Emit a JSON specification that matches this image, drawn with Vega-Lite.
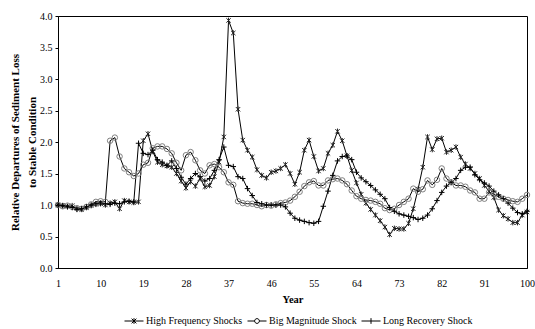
{
 "$schema": "https://vega.github.io/schema/vega-lite/v6.json",
 "width": 469,
 "height": 252,
 "autosize": {"type": "none"},
 "padding": {"left": 58, "top": 16, "right": 8, "bottom": 61},
 "config": {
  "font": "Liberation Serif",
  "view": {"stroke": "#000", "strokeWidth": 1},
  "axis": {"labelFont": "Liberation Serif", "titleFont": "Liberation Serif", "labelColor": "#000", "titleColor": "#000", "domainColor": "#000", "tickColor": "#000", "grid": false, "labelFontSize": 10, "titleFontSize": 10.5, "titleFontWeight": "bold"},
  "legend": {"labelFont": "Liberation Serif", "labelFontSize": 10, "labelColor": "#000"}
 },
 "datasets": {
  "d": [
{"year":1,"series":"HF","value":1.00},{"year":2,"series":"HF","value":0.99},{"year":3,"series":"HF","value":0.98},{"year":4,"series":"HF","value":0.99},{"year":5,"series":"HF","value":0.94},{"year":6,"series":"HF","value":0.93},{"year":7,"series":"HF","value":0.96},{"year":8,"series":"HF","value":0.99},{"year":9,"series":"HF","value":1.01},{"year":10,"series":"HF","value":1.02},
{"year":11,"series":"HF","value":1.00},{"year":12,"series":"HF","value":1.03},{"year":13,"series":"HF","value":1.05},{"year":14,"series":"HF","value":0.94},{"year":15,"series":"HF","value":1.07},{"year":16,"series":"HF","value":1.05},{"year":17,"series":"HF","value":1.04},{"year":18,"series":"HF","value":1.05},{"year":19,"series":"HF","value":2.02},{"year":20,"series":"HF","value":2.13},
{"year":21,"series":"HF","value":1.85},{"year":22,"series":"HF","value":1.68},{"year":23,"series":"HF","value":1.64},{"year":24,"series":"HF","value":1.62},{"year":25,"series":"HF","value":1.60},{"year":26,"series":"HF","value":1.50},{"year":27,"series":"HF","value":1.38},{"year":28,"series":"HF","value":1.27},{"year":29,"series":"HF","value":1.37},{"year":30,"series":"HF","value":1.30},
{"year":31,"series":"HF","value":1.42},{"year":32,"series":"HF","value":1.29},{"year":33,"series":"HF","value":1.31},{"year":34,"series":"HF","value":1.45},{"year":35,"series":"HF","value":1.68},{"year":36,"series":"HF","value":2.08},{"year":37,"series":"HF","value":3.93},{"year":38,"series":"HF","value":3.73},{"year":39,"series":"HF","value":2.52},{"year":40,"series":"HF","value":2.03},
{"year":41,"series":"HF","value":1.87},{"year":42,"series":"HF","value":1.76},{"year":43,"series":"HF","value":1.56},{"year":44,"series":"HF","value":1.47},{"year":45,"series":"HF","value":1.43},{"year":46,"series":"HF","value":1.52},{"year":47,"series":"HF","value":1.54},{"year":48,"series":"HF","value":1.58},{"year":49,"series":"HF","value":1.64},{"year":50,"series":"HF","value":1.50},
{"year":51,"series":"HF","value":1.33},{"year":52,"series":"HF","value":1.52},{"year":53,"series":"HF","value":1.87},{"year":54,"series":"HF","value":2.03},{"year":55,"series":"HF","value":1.77},{"year":56,"series":"HF","value":1.54},{"year":57,"series":"HF","value":1.58},{"year":58,"series":"HF","value":1.82},{"year":59,"series":"HF","value":1.95},{"year":60,"series":"HF","value":2.17},
{"year":61,"series":"HF","value":2.02},{"year":62,"series":"HF","value":1.78},{"year":63,"series":"HF","value":1.55},{"year":64,"series":"HF","value":1.35},{"year":65,"series":"HF","value":1.17},{"year":66,"series":"HF","value":1.03},{"year":67,"series":"HF","value":0.93},{"year":68,"series":"HF","value":0.84},{"year":69,"series":"HF","value":0.75},{"year":70,"series":"HF","value":0.65},
{"year":71,"series":"HF","value":0.53},{"year":72,"series":"HF","value":0.63},{"year":73,"series":"HF","value":0.62},{"year":74,"series":"HF","value":0.62},{"year":75,"series":"HF","value":0.71},{"year":76,"series":"HF","value":0.94},{"year":77,"series":"HF","value":1.25},{"year":78,"series":"HF","value":1.60},{"year":79,"series":"HF","value":2.08},{"year":80,"series":"HF","value":1.88},
{"year":81,"series":"HF","value":2.05},{"year":82,"series":"HF","value":2.06},{"year":83,"series":"HF","value":1.84},{"year":84,"series":"HF","value":1.87},{"year":85,"series":"HF","value":1.92},{"year":86,"series":"HF","value":1.76},{"year":87,"series":"HF","value":1.65},{"year":88,"series":"HF","value":1.58},{"year":89,"series":"HF","value":1.50},{"year":90,"series":"HF","value":1.42},
{"year":91,"series":"HF","value":1.31},{"year":92,"series":"HF","value":1.22},{"year":93,"series":"HF","value":1.12},{"year":94,"series":"HF","value":0.92},{"year":95,"series":"HF","value":0.83},{"year":96,"series":"HF","value":0.78},{"year":97,"series":"HF","value":0.72},{"year":98,"series":"HF","value":0.72},{"year":99,"series":"HF","value":0.84},{"year":100,"series":"HF","value":0.89},
{"year":1,"series":"BM","value":1.00},{"year":2,"series":"BM","value":0.98},{"year":3,"series":"BM","value":0.99},{"year":4,"series":"BM","value":0.97},{"year":5,"series":"BM","value":0.95},{"year":6,"series":"BM","value":0.94},{"year":7,"series":"BM","value":0.97},{"year":8,"series":"BM","value":1.01},{"year":9,"series":"BM","value":1.05},{"year":10,"series":"BM","value":1.06},
{"year":11,"series":"BM","value":1.05},{"year":12,"series":"BM","value":2.02},{"year":13,"series":"BM","value":2.07},{"year":14,"series":"BM","value":1.77},{"year":15,"series":"BM","value":1.58},{"year":16,"series":"BM","value":1.52},{"year":17,"series":"BM","value":1.46},{"year":18,"series":"BM","value":1.50},{"year":19,"series":"BM","value":1.64},{"year":20,"series":"BM","value":1.67},
{"year":21,"series":"BM","value":1.90},{"year":22,"series":"BM","value":1.93},{"year":23,"series":"BM","value":1.93},{"year":24,"series":"BM","value":1.89},{"year":25,"series":"BM","value":1.82},{"year":26,"series":"BM","value":1.67},{"year":27,"series":"BM","value":1.55},{"year":28,"series":"BM","value":1.79},{"year":29,"series":"BM","value":1.84},{"year":30,"series":"BM","value":1.71},
{"year":31,"series":"BM","value":1.55},{"year":32,"series":"BM","value":1.50},{"year":33,"series":"BM","value":1.63},{"year":34,"series":"BM","value":1.65},{"year":35,"series":"BM","value":1.60},{"year":36,"series":"BM","value":1.52},{"year":37,"series":"BM","value":1.36},{"year":38,"series":"BM","value":1.32},{"year":39,"series":"BM","value":1.06},{"year":40,"series":"BM","value":1.03},
{"year":41,"series":"BM","value":1.02},{"year":42,"series":"BM","value":1.02},{"year":43,"series":"BM","value":1.00},{"year":44,"series":"BM","value":0.98},{"year":45,"series":"BM","value":1.00},{"year":46,"series":"BM","value":0.99},{"year":47,"series":"BM","value":1.01},{"year":48,"series":"BM","value":1.03},{"year":49,"series":"BM","value":1.04},{"year":50,"series":"BM","value":1.07},
{"year":51,"series":"BM","value":1.13},{"year":52,"series":"BM","value":1.21},{"year":53,"series":"BM","value":1.30},{"year":54,"series":"BM","value":1.36},{"year":55,"series":"BM","value":1.38},{"year":56,"series":"BM","value":1.31},{"year":57,"series":"BM","value":1.31},{"year":58,"series":"BM","value":1.39},{"year":59,"series":"BM","value":1.41},{"year":60,"series":"BM","value":1.42},
{"year":61,"series":"BM","value":1.39},{"year":62,"series":"BM","value":1.33},{"year":63,"series":"BM","value":1.23},{"year":64,"series":"BM","value":1.14},{"year":65,"series":"BM","value":1.10},{"year":66,"series":"BM","value":1.08},{"year":67,"series":"BM","value":1.07},{"year":68,"series":"BM","value":1.05},{"year":69,"series":"BM","value":1.02},{"year":70,"series":"BM","value":0.95},
{"year":71,"series":"BM","value":0.92},{"year":72,"series":"BM","value":0.94},{"year":73,"series":"BM","value":1.00},{"year":74,"series":"BM","value":1.05},{"year":75,"series":"BM","value":1.10},{"year":76,"series":"BM","value":1.26},{"year":77,"series":"BM","value":1.21},{"year":78,"series":"BM","value":1.25},{"year":79,"series":"BM","value":1.39},{"year":80,"series":"BM","value":1.32},
{"year":81,"series":"BM","value":1.40},{"year":82,"series":"BM","value":1.58},{"year":83,"series":"BM","value":1.42},{"year":84,"series":"BM","value":1.36},{"year":85,"series":"BM","value":1.31},{"year":86,"series":"BM","value":1.31},{"year":87,"series":"BM","value":1.29},{"year":88,"series":"BM","value":1.23},{"year":89,"series":"BM","value":1.20},{"year":90,"series":"BM","value":1.10},
{"year":91,"series":"BM","value":1.10},{"year":92,"series":"BM","value":1.20},{"year":93,"series":"BM","value":1.17},{"year":94,"series":"BM","value":1.13},{"year":95,"series":"BM","value":1.10},{"year":96,"series":"BM","value":1.08},{"year":97,"series":"BM","value":1.06},{"year":98,"series":"BM","value":1.05},{"year":99,"series":"BM","value":1.10},{"year":100,"series":"BM","value":1.16},
{"year":1,"series":"LR","value":1.00},{"year":2,"series":"LR","value":0.99},{"year":3,"series":"LR","value":0.97},{"year":4,"series":"LR","value":0.96},{"year":5,"series":"LR","value":0.93},{"year":6,"series":"LR","value":0.94},{"year":7,"series":"LR","value":0.97},{"year":8,"series":"LR","value":1.00},{"year":9,"series":"LR","value":1.02},{"year":10,"series":"LR","value":1.03},
{"year":11,"series":"LR","value":1.02},{"year":12,"series":"LR","value":1.01},{"year":13,"series":"LR","value":1.03},{"year":14,"series":"LR","value":1.02},{"year":15,"series":"LR","value":1.05},{"year":16,"series":"LR","value":1.06},{"year":17,"series":"LR","value":1.05},{"year":18,"series":"LR","value":1.98},{"year":19,"series":"LR","value":1.82},{"year":20,"series":"LR","value":1.80},
{"year":21,"series":"LR","value":1.87},{"year":22,"series":"LR","value":1.72},{"year":23,"series":"LR","value":1.68},{"year":24,"series":"LR","value":1.63},{"year":25,"series":"LR","value":1.70},{"year":26,"series":"LR","value":1.58},{"year":27,"series":"LR","value":1.44},{"year":28,"series":"LR","value":1.33},{"year":29,"series":"LR","value":1.42},{"year":30,"series":"LR","value":1.50},
{"year":31,"series":"LR","value":1.45},{"year":32,"series":"LR","value":1.38},{"year":33,"series":"LR","value":1.42},{"year":34,"series":"LR","value":1.55},{"year":35,"series":"LR","value":1.72},{"year":36,"series":"LR","value":1.92},{"year":37,"series":"LR","value":1.63},{"year":38,"series":"LR","value":1.61},{"year":39,"series":"LR","value":1.45},{"year":40,"series":"LR","value":1.42},
{"year":41,"series":"LR","value":1.26},{"year":42,"series":"LR","value":1.15},{"year":43,"series":"LR","value":1.04},{"year":44,"series":"LR","value":1.02},{"year":45,"series":"LR","value":1.00},{"year":46,"series":"LR","value":1.00},{"year":47,"series":"LR","value":1.00},{"year":48,"series":"LR","value":1.00},{"year":49,"series":"LR","value":0.97},{"year":50,"series":"LR","value":0.87},
{"year":51,"series":"LR","value":0.79},{"year":52,"series":"LR","value":0.76},{"year":53,"series":"LR","value":0.74},{"year":54,"series":"LR","value":0.72},{"year":55,"series":"LR","value":0.71},{"year":56,"series":"LR","value":0.74},{"year":57,"series":"LR","value":0.98},{"year":58,"series":"LR","value":1.22},{"year":59,"series":"LR","value":1.47},{"year":60,"series":"LR","value":1.70},
{"year":61,"series":"LR","value":1.77},{"year":62,"series":"LR","value":1.78},{"year":63,"series":"LR","value":1.72},{"year":64,"series":"LR","value":1.52},{"year":65,"series":"LR","value":1.43},{"year":66,"series":"LR","value":1.37},{"year":67,"series":"LR","value":1.31},{"year":68,"series":"LR","value":1.24},{"year":69,"series":"LR","value":1.17},{"year":70,"series":"LR","value":1.10},
{"year":71,"series":"LR","value":0.96},{"year":72,"series":"LR","value":0.90},{"year":73,"series":"LR","value":0.86},{"year":74,"series":"LR","value":0.84},{"year":75,"series":"LR","value":0.82},{"year":76,"series":"LR","value":0.80},{"year":77,"series":"LR","value":0.77},{"year":78,"series":"LR","value":0.79},{"year":79,"series":"LR","value":0.84},{"year":80,"series":"LR","value":0.94},
{"year":81,"series":"LR","value":1.07},{"year":82,"series":"LR","value":1.20},{"year":83,"series":"LR","value":1.30},{"year":84,"series":"LR","value":1.36},{"year":85,"series":"LR","value":1.42},{"year":86,"series":"LR","value":1.55},{"year":87,"series":"LR","value":1.60},{"year":88,"series":"LR","value":1.60},{"year":89,"series":"LR","value":1.48},{"year":90,"series":"LR","value":1.40},
{"year":91,"series":"LR","value":1.35},{"year":92,"series":"LR","value":1.30},{"year":93,"series":"LR","value":1.22},{"year":94,"series":"LR","value":1.16},{"year":95,"series":"LR","value":1.10},{"year":96,"series":"LR","value":1.03},{"year":97,"series":"LR","value":0.95},{"year":98,"series":"LR","value":0.88},{"year":99,"series":"LR","value":0.86},{"year":100,"series":"LR","value":0.90}
  ]
 },
 "data": {"name": "d"},
 "encoding": {
  "x": {"field": "year", "type": "quantitative", "scale": {"domain": [1, 100], "nice": false, "zero": false},
        "axis": {"values": [1, 10, 19, 28, 37, 46, 55, 64, 73, 82, 91, 100], "title": "Year", "ticks": false, "labelPadding": 10, "titlePadding": 6, "labelFlush": false}},
  "y": {"field": "value", "type": "quantitative", "scale": {"domain": [0, 4], "nice": false, "zero": true},
        "axis": {"values": [0, 0.5, 1, 1.5, 2, 2.5, 3, 3.5, 4], "format": ".1f", "title": ["Relative Departures of Sediment Loss", "to Stable Condition"], "tickSize": 3, "labelPadding": 3, "titlePadding": 2, "titleLineHeight": 17, "titleFontSize": 11}}
 },
 "layer": [
  {"mark": {"type": "line", "color": "#000", "strokeWidth": 1},
   "encoding": {"detail": {"field": "series"}}},
  {"mark": {"type": "point", "filled": false, "size": 30, "strokeWidth": 1, "opacity": 1},
   "encoding": {
    "shape": {"field": "series", "scale": {"domain": ["HF", "BM", "LR"], "range": ["M-0.8,-0.8L0.8,0.8M-0.8,0.8L0.8,-0.8M0,-1L0,1", "circle", "M-1,0L1,0M0,-1L0,1"]}, "legend": null},
    "stroke": {"field": "series", "scale": {"domain": ["HF", "BM", "LR"], "range": ["#222222", "#808080", "#000000"]}, "legend": null}
   }},
  {"transform": [{"filter": "datum.year > 1000"}],
   "mark": {"type": "point", "filled": false, "color": "#000", "strokeWidth": 1, "opacity": 1},
   "encoding": {
    "shape": {"field": "series", "scale": {"domain": ["HF", "BM", "LR"], "range": ["M-1,0L1,0M-0.25,-0.25L0.25,0.25M-0.25,0.25L0.25,-0.25M0,-0.3L0,0.3", "M-1,0L-0.25,0M0.25,0L1,0M0.25,0A0.25,0.25,0,1,1,-0.25,0A0.25,0.25,0,1,1,0.25,0", "M-1,0L1,0M0,-0.3L0,0.3"]},
     "legend": {"orient": "none", "legendX": 66, "legendY": 295, "direction": "horizontal", "title": null, "symbolSize": 361, "symbolStrokeWidth": 1, "symbolStrokeColor": "#000", "symbolFillColor": "transparent", "labelOffset": 2, "columnPadding": 2,
      "labelExpr": "datum.label == 'HF' ? 'High Frequency Shocks' : datum.label == 'BM' ? 'Big Magnitude Shock' : 'Long Recovery Shock'"}}
   }}
 ],
 "resolve": {"scale": {"shape": "independent"}}
}
